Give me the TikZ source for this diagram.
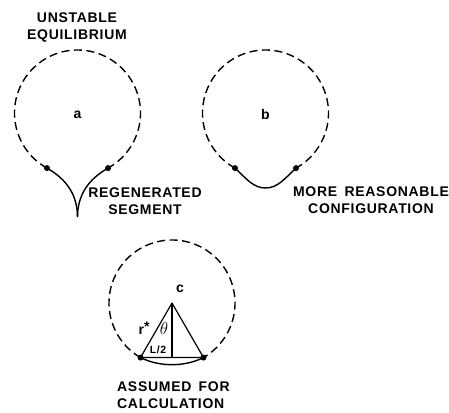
\documentclass[tikz,border=0pt]{standalone}
\usepackage{fontspec}
\setmainfont{Liberation Sans}[LetterSpace=5,WordSpace=1.6]
\usetikzlibrary{calc}
\begin{document}
\begin{tikzpicture}[x=1pt,y=-1pt,
  dashcirc/.style={line width=1.4pt, dash pattern=on 8pt off 4.5pt},
  solidline/.style={line width=1.4pt},
  thinline/.style={line width=1.2pt},
  dotmark/.style={circle, fill=black, inner sep=0pt, minimum size=6pt},
  caption/.style={font=\fontsize{14}{17}\selectfont\bfseries, inner sep=0pt},
  letter/.style={font=\fontsize{14}{16}\selectfont\bfseries, inner sep=0pt}]
\useasboundingbox (0,0) rectangle (449,412);
\def\rr{63}
% ---------- a ----------
\coordinate (ca) at (77.5,113);
\path (ca) ++(119:\rr) coordinate (aL);
\path (ca) ++(61:\rr) coordinate (aR);
\coordinate (acusp) at (77.5,217);
\draw[dashcirc] (aL) arc[start angle=119, end angle=421, radius=\rr];
\draw[solidline] (aL) .. controls +(14,8) and (77.5,190) .. (acusp);
\draw[solidline] (aR) .. controls +(-14,8) and (77.5,190) .. (acusp);
\node[dotmark] (daL) at (aL) {};
\node[dotmark] (daR) at (aR) {};
\node[letter] (la) at (77.5,115) {a};
\node[caption, align=center] (ta) at (77,27.5) {UNSTABLE\\EQUILIBRIUM};
\node[caption, align=center] (tseg) at (145,201) {REGENERATED\\SEGMENT};
% ---------- b ----------
\coordinate (cb) at (265.5,113);
\path (cb) ++(119:\rr) coordinate (bL);
\path (cb) ++(61:\rr) coordinate (bR);
\coordinate (bbot) at (265.5,188);
\draw[dashcirc] (bL) arc[start angle=119, end angle=421, radius=\rr];
\draw[solidline] (bL) .. controls +(11,10) and (253,188) .. (bbot)
  .. controls (278,188) and ($(bR)+(-11,10)$) .. (bR);
\node[dotmark] (dbL) at (bL) {};
\node[dotmark] (dbR) at (bR) {};
\node[letter] (lb) at (265.5,114) {b};
\node[caption, align=center] (tb) at (371,200.5) {MORE REASONABLE\\CONFIGURATION};
% ---------- c ----------
\coordinate (cc) at (172,303);
\path (cc) ++(120:\rr) coordinate (cL);
\path (cc) ++(60:\rr) coordinate (cR);
\coordinate (cmid) at ($(cL)!0.5!(cR)$);
\draw[dashcirc] (cL) arc[start angle=120, end angle=420, radius=\rr];
\draw[solidline] (cL) .. controls +(19,9.5) and ($(cR)+(-19,9.5)$) .. (cR);
\draw[thinline, line join=round] (cc) -- (cL) -- (cR) -- cycle;
\draw[thinline] (cc) -- (cmid);
\node[dotmark] (dcL) at (cL) {};
\node[dotmark] (dcR) at (cR) {};
\node[letter] (lc) at (180,289) {c};
\node[font=\fontsize{14}{16}\selectfont\bfseries, inner sep=0pt] (lr) at (144,328) {r\raisebox{3pt}{*}};
\node[font=\fontsize{16}{18}\selectfont, inner sep=0pt] (lth) at (164,328) {$\theta$};
\node[font=\fontsize{10.5}{12}\selectfont\bfseries, inner sep=0pt] (lL) at (158,350) {L/2};
\node[caption, align=left, anchor=north west] (tc) at (117,382) {ASSUMED FOR\\CALCULATION};
\end{tikzpicture}
\end{document}
